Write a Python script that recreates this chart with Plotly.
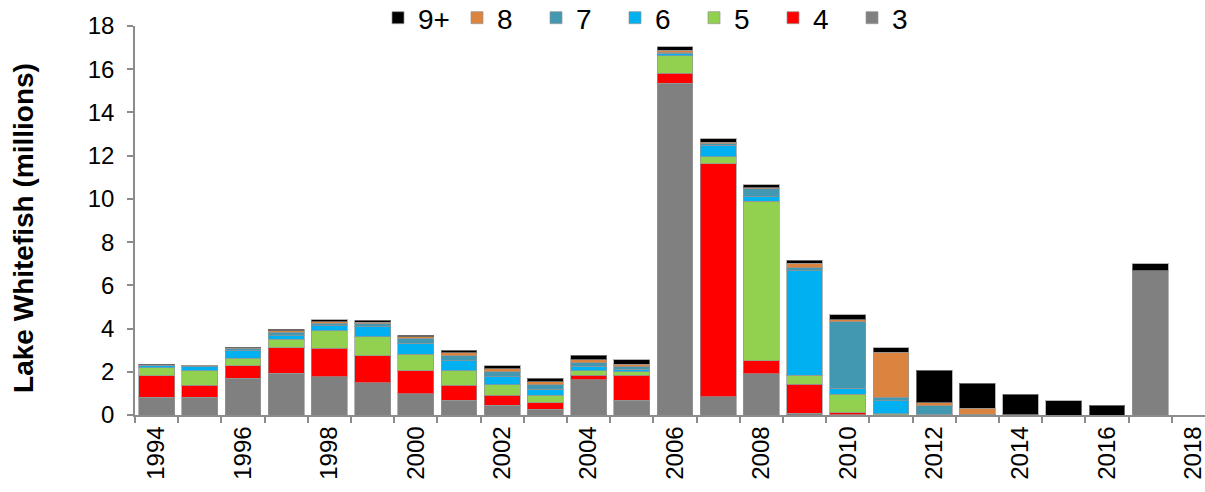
import plotly.graph_objects as go

years = list(range(1994, 2019))

age3 = [0.82, 0.82, 1.71, 1.93, 1.76, 1.50, 0.99, 0.68, 0.45, 0.26, 1.62, 0.69, 15.34,
        0.85, 1.90, 0.08, 0.02, 0.02, 0.01, 0.02, 0.01, 0.0, 0.0, 6.68, 0.0]
age4 = [1.00, 0.55, 0.57, 1.19, 1.34, 1.25, 1.06, 0.69, 0.46, 0.31, 0.22, 1.15, 0.48,
        10.77, 0.60, 1.34, 0.08, 0.0, 0.0, 0.0, 0.0, 0.0, 0.0, 0.0, 0.0]
age5 = [0.37, 0.67, 0.34, 0.38, 0.80, 0.86, 0.76, 0.68, 0.48, 0.34, 0.21, 0.15, 0.80,
        0.34, 7.39, 0.43, 0.87, 0.03, 0.0, 0.0, 0.0, 0.0, 0.0, 0.0, 0.0]
age6 = [0.08, 0.20, 0.36, 0.17, 0.22, 0.48, 0.51, 0.45, 0.38, 0.29, 0.20, 0.13, 0.11,
        0.53, 0.22, 4.83, 0.26, 0.60, 0.02, 0.0, 0.0, 0.0, 0.0, 0.0, 0.0]
age7 = [0.04, 0.05, 0.08, 0.16, 0.12, 0.14, 0.23, 0.25, 0.23, 0.20, 0.16, 0.12, 0.04,
        0.06, 0.35, 0.14, 3.09, 0.17, 0.40, 0.02, 0.0, 0.0, 0.0, 0.0, 0.0]
age8 = [0.02, 0.01, 0.04, 0.07, 0.08, 0.06, 0.06, 0.13, 0.14, 0.13, 0.15, 0.11, 0.11,
        0.06, 0.05, 0.20, 0.08, 2.08, 0.14, 0.28, 0.0, 0.0, 0.0, 0.0, 0.0]
age9p = [0.03, 0.01, 0.03, 0.07, 0.08, 0.09, 0.09, 0.12, 0.14, 0.17, 0.20, 0.20, 0.17,
         0.17, 0.14, 0.14, 0.23, 0.22, 1.50, 1.15, 0.96, 0.65, 0.45, 0.31, 0.0]

series = [
    ("3", age3, "#808080"),
    ("4", age4, "#FF0000"),
    ("5", age5, "#92D050"),
    ("6", age6, "#00B0F0"),
    ("7", age7, "#4198B0"),
    ("8", age8, "#DB843F"),
    ("9+", age9p, "#000000"),
]

tick_years = list(range(1994, 2019, 2))
boundaries = [y - 0.5 for y in range(1994, 2020)]

fig = go.Figure()
for name, vals, col in series:
    fig.add_trace(go.Bar(
        x=years, y=vals, name=name,
        marker=dict(color=col, line=dict(color="rgba(150,150,150,0.7)", width=1)),
    ))

axis_col = "#8c8c8c"
fig.update_layout(
    barmode="stack",
    bargap=0.17,
    width=1205, height=492,
    margin=dict(l=135, r=0, t=26, b=77, pad=0, autoexpand=False),
    paper_bgcolor="white",
    plot_bgcolor="white",
    font=dict(family="Liberation Sans, Arial, sans-serif", color="black"),
    legend=dict(
        orientation="h", traceorder="reversed",
        xref="container", yref="container",
        x=378 / 1205, xanchor="left", y=1 - 18 / 492, yanchor="middle",
        font=dict(family="Liberation Sans Narrow, Arial Narrow, Liberation Sans, sans-serif", size=28),
        itemwidth=30, entrywidth=34, entrywidthmode="pixels",
        bgcolor="rgba(0,0,0,0)",
    ),
    xaxis=dict(
        range=[1993.5, 2018.27], automargin=False,
        tickmode="array", tickvals=tick_years, ticktext=[str(y) for y in tick_years],
        tickangle=-90, tickfont=dict(size=24), ticklabeloverflow="allow",
        ticks="", showgrid=False, zeroline=False,
        showline=True, linecolor=axis_col, linewidth=1.5,
        minor=dict(tickmode="array", tickvals=boundaries, ticks="outside",
                   ticklen=6, tickcolor=axis_col, tickwidth=1.5, showgrid=False),
    ),
    yaxis=dict(
        range=[0, 18], tickvals=list(range(0, 19, 2)), automargin=False,
        tickfont=dict(size=24),
        ticks="outside", ticklen=6, tickcolor=axis_col, tickwidth=1.5,
        showgrid=False, zeroline=False,
        showline=True, linecolor=axis_col, linewidth=1.5,
        ticklabelstandoff=8,
    ),
    annotations=[dict(
        text="<b>Lake Whitefish (millions)</b>", textangle=-90,
        xref="paper", yref="paper", x=-(135 - 24) / 1070, y=0.481,
        xanchor="center", yanchor="middle", showarrow=False,
        font=dict(size=28, family="Liberation Sans, Arial, sans-serif"),
    )],
)

fig.write_html(
    "out.html",
    config={"displayModeBar": False},
    post_script="document.body.style.margin='0';document.body.style.overflow='hidden';",
)
